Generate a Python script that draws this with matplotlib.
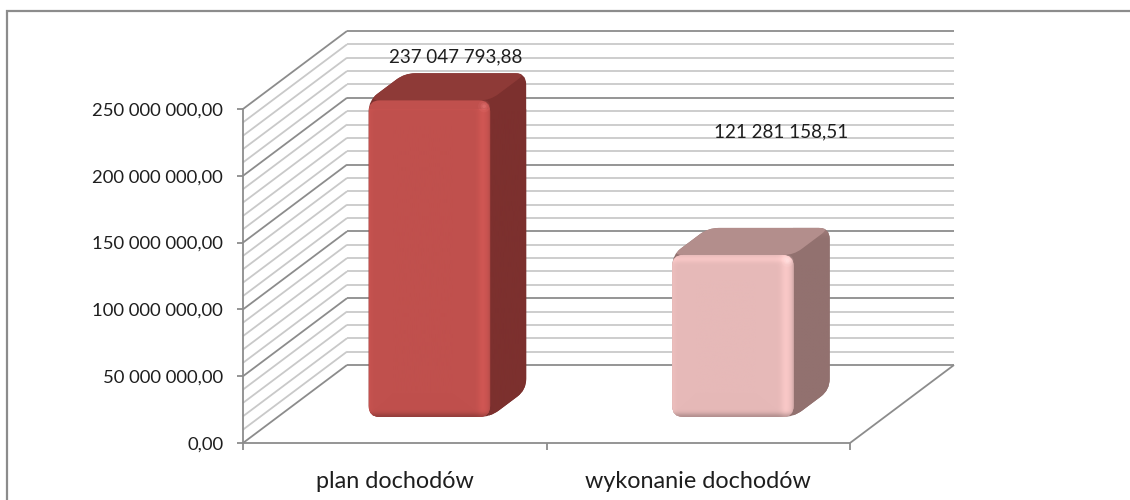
import numpy as np
import matplotlib
matplotlib.use("Agg")
import matplotlib.pyplot as plt
from matplotlib.path import Path
from matplotlib.patches import PathPatch, Rectangle, Circle
from matplotlib.lines import Line2D
from matplotlib.transforms import IdentityTransform
from matplotlib.ticker import FixedLocator, FixedFormatter

# ---------------- data ----------------
categories = ["plan dochodów", "wykonanie dochodów"]
values = [237047793.88, 121281158.51]
value_labels = ["237 047 793,88", "121 281 158,51"]
y_ticks = [0, 50e6, 100e6, 150e6, 200e6, 250e6]
y_tick_labels = ["0,00", "50 000 000,00", "100 000 000,00",
                 "150 000 000,00", "200 000 000,00", "250 000 000,00"]
y_max = 250e6
minor_step = 10e6

# ---------------- style ----------------
front_colors = ["#C0504D", "#E6B9B8"]
side_colors = ["#7C302E", "#92716F"]
top_colors = ["#8E3A37", "#B38E8C"]
highlight_colors = ["#F08080", "#FFE6E6"]
label_offsets_pt = [(-7, 12), (9, 69)]   # Excel-style label placement
GRID_MAJOR = "#8C8C8C"
GRID_MINOR = "#C9C9C9"
TXT = "#1E1E1E"
FONT = "Lato"

W, H = 1130, 500
DX, DY = 104.0, 78.0          # depth offset of the back wall (pixels)
Z0, Z1 = 1 / 3, 0.68           # bar depth range
HALF_W = 0.20                  # bar half width in category units

fig = plt.figure(figsize=(W / 100, H / 100), dpi=100)
fig.patch.set_facecolor("white")
ax = fig.add_axes([243 / W, (H - 443) / H, 607 / W, 334 / H])
ax.set_autoscale_on(False)
ax.set_xlim(-0.5, len(categories) - 0.5)
ax.set_ylim(0, y_max)
ax.patch.set_visible(False)

ID = IdentityTransform()


def proj(x, y, z):
    px, py = ax.transData.transform((x, y))
    return np.array([px + z * DX, py + z * DY])


def line(p, q, color, lw=1.3, z=1):
    ln = Line2D([p[0], q[0]], [p[1], q[1]], color=color, lw=lw,
                transform=ID, zorder=z, clip_on=False,
                solid_capstyle="butt")
    ax.add_line(ln)


def rounded_path(pts, r):
    pts = np.asarray(pts, float)
    n = len(pts)
    verts, codes = [], []
    for i in range(n):
        p0, p, p1 = pts[i - 1], pts[i], pts[(i + 1) % n]
        d1, d2 = p0 - p, p1 - p
        l1, l2 = np.hypot(*d1), np.hypot(*d2)
        rr = min(r, l1 / 2, l2 / 2)
        a = p + d1 / l1 * rr
        b = p + d2 / l2 * rr
        verts.append(a)
        codes.append(Path.MOVETO if i == 0 else Path.LINETO)
        verts += [p, b]
        codes += [Path.CURVE3, Path.CURVE3]
    verts.append(verts[0])
    codes.append(Path.CLOSEPOLY)
    return Path(verts, codes)


x_lo, x_hi = -0.5, len(categories) - 0.5

# ---------------- walls & floor ----------------
levels = np.arange(0, y_max + 1, minor_step)
for v in levels:
    major = abs(v % 50e6) < 1
    c = GRID_MAJOR if major else GRID_MINOR
    line(proj(x_lo, v, 1), proj(x_hi, v, 1), c, z=1 if not major else 1.1)
    line(proj(x_lo, v, 0), proj(x_lo, v, 1), c, z=1 if not major else 1.1)
line(proj(x_hi, 0, 0), proj(x_hi, 0, 1), GRID_MAJOR, z=1.2)

# ---------------- bars ----------------
for i, v in enumerate(values):
    x0, x1 = i - HALF_W, i + HALF_W
    FBL, FBR = proj(x0, 0, Z0), proj(x1, 0, Z0)
    FTL, FTR = proj(x0, v, Z0), proj(x1, v, Z0)
    BBR, BTR, BTL = proj(x1, 0, Z1), proj(x1, v, Z1), proj(x0, v, Z1)

    sil = PathPatch(rounded_path([FBL, FBR, BBR, BTR, BTL, FTL], 11),
                    transform=ID, fc=side_colors[i], ec="none",
                    zorder=3, clip_on=False)
    ax.add_patch(sil)
    top = PathPatch(rounded_path([FTL, FTR, BTR, BTL], 10),
                    transform=ID, fc=top_colors[i], ec="none",
                    zorder=3.1, clip_on=False)
    ax.add_patch(top)
    front = PathPatch(rounded_path([FBL, FBR, FTR, FTL], 11),
                      transform=ID, fc=front_colors[i], ec="none",
                      zorder=3.2, clip_on=False)
    ax.add_patch(front)
    w = int(round(FBR[0] - FBL[0]))
    h = int(round(FTL[1] - FBL[1]))
    xs = np.arange(w) + 0.5
    ys = np.arange(h) + 0.5
    fx = (1 + 0.08 * np.exp(-((w - xs - 8) / 5.0) ** 2)
          - 0.10 * np.exp(-((w - xs) / 2.0) ** 2)
          + 0.03 * np.exp(-(xs / 4.0) ** 2))
    fy = (1 - 0.22 * np.exp(-(ys / 4.0) ** 2)
          + 0.07 * np.exp(-((h - ys - 5) / 3.5) ** 2))
    base = np.array(matplotlib.colors.to_rgb(front_colors[i]))
    img = np.clip(base[None, None, :] * fx[None, :, None] * fy[:, None, None], 0, 1)
    im = ax.imshow(img, extent=(FBL[0], FBR[0], FBL[1], FTL[1]),
                   transform=ID, origin="lower", aspect="auto",
                   interpolation="bilinear", zorder=3.3)
    im.set_clip_path(front)
    sw = int(round(BBR[0] - FBR[0])) + 2
    sh = int(round(BTR[1] - FBR[1])) + 2
    sy = np.arange(sh) + 0.5
    sfy = 1 + 0.08 * np.exp(-((sh - sy - 3) / 6.0) ** 2)
    sbase = np.array(matplotlib.colors.to_rgb(side_colors[i]))
    simg = np.clip(sbase[None, None, :] * sfy[:, None, None] * np.ones((1, sw, 1)), 0, 1)
    sim = ax.imshow(simg, extent=(FBR[0] - 1, BBR[0] + 1, FBR[1] - 1, BTR[1] + 1),
                    transform=ID, origin="lower", aspect="auto",
                    interpolation="bilinear", zorder=3.05)
    sim.set_clip_path(sil)
    hp = FTR + np.array([-6, -6])
    for rad, al in [(6, 0.12), (3.5, 0.22), (1.8, 0.35)]:
        c = Circle(hp, rad, transform=ID, fc=highlight_colors[i],
                   ec="none", alpha=al, zorder=3.4, clip_on=False)
        ax.add_patch(c)

    anchor = proj(i, v, Z1)
    ax.annotate(value_labels[i], xy=anchor, xycoords=ID,
                xytext=label_offsets_pt[i], textcoords="offset points",
                ha="center", va="center", fontsize=13.5, family=FONT,
                color=TXT, zorder=5, annotation_clip=False)

# ---------------- axes / ticks ----------------
for s in ["top", "right"]:
    ax.spines[s].set_visible(False)
for s in ["left", "bottom"]:
    ax.spines[s].set_color(GRID_MAJOR)
    ax.spines[s].set_linewidth(1.3)
    ax.spines[s].set_zorder(2)

ax.yaxis.set_major_locator(FixedLocator(y_ticks))
ax.yaxis.set_major_formatter(FixedFormatter(y_tick_labels))
ax.tick_params(axis="y", which="major", direction="out", length=4.3,
               width=1.3, color=GRID_MAJOR, pad=10, labelsize=13.3,
               labelcolor=TXT)

ax.xaxis.set_major_locator(FixedLocator(range(len(categories))))
ax.xaxis.set_major_formatter(FixedFormatter(categories))
ax.xaxis.set_minor_locator(FixedLocator(np.arange(x_lo, x_hi + 0.01, 1.0)))
ax.tick_params(axis="x", which="major", length=0, pad=20, labelsize=16.8,
               labelcolor=TXT)
ax.tick_params(axis="x", which="minor", direction="out", length=5,
               width=1.3, color=GRID_MAJOR)
for lab in ax.get_xticklabels() + ax.get_yticklabels():
    lab.set_family(FONT)

ax.set_xlim(x_lo, x_hi)
ax.set_ylim(0, y_max)

fig.add_artist(Rectangle((7 / W, -1), 2, 1 - 11 / H + 1,
                         transform=fig.transFigure, fill=False,
                         ec=GRID_MAJOR, lw=1.6, zorder=0))

fig.savefig("out.png", dpi=100)
